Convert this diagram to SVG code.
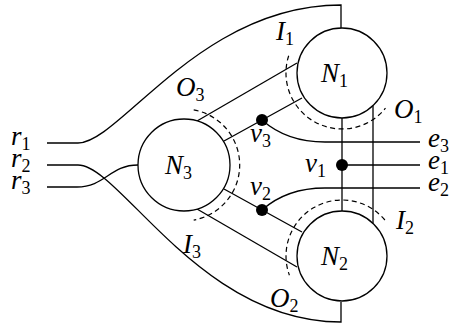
<svg xmlns="http://www.w3.org/2000/svg" width="453" height="324" viewBox="0 0 453 324" font-family="'Liberation Serif', 'DejaVu Serif', serif">
<style>
.ln{fill:none;stroke:#000;stroke-width:1.3}
.ds{fill:none;stroke:#000;stroke-width:1.2;stroke-dasharray:5 3.5}
.nd{fill:#fff;stroke:#000;stroke-width:1.3}
.dot{fill:#000}
text{font-family:"Liberation Serif","DejaVu Serif",serif;font-style:italic;font-size:27px;fill:#000}
.sub{font-style:normal;font-size:18px}
</style>
<rect width="453" height="324" fill="#fff"/>
<g id="connectors">
<path class="ln" d="M47,143 L78,143 C120,143 200,5 341,5 L341,28"/>
<path class="ln" d="M47,165 L78,165 C120,165 200,322 341,322 L341,302"/>
<path class="ln" d="M47,187 L77,187 C105,187 110,165 138,165"/>
<path class="ln" d="M197,121 L297,63"/>
<path class="ln" d="M224,141 L302,98"/>
<path class="ln" d="M197,209 L297,267"/>
<path class="ln" d="M224,189 L302,232"/>
<path class="ln" d="M262,120 C280,136 300,142 325,142 L420,142"/>
<path class="ln" d="M262,210 C280,194 300,188 325,188 L420,188"/>
<path class="ln" d="M342,118 L342,211"/>
<path class="ln" d="M342,165 L420,165"/>
<path class="ln" d="M373,105.6 L373,223.4"/>
<path class="ds" d="M288.7,55.7 A56,56 0 0 0 385.5,108.2"/>
<path class="ds" d="M384.9,220 A56,56 0 0 0 289.4,275.2"/>
<path class="ds" d="M193.7,109.9 A56,56 0 0 1 193.7,220.1"/>
</g>
<g id="N1"><circle class="nd" cx="342" cy="73" r="45"/><text x="321" y="82">N<tspan class="sub" dy="5">1</tspan></text></g>
<g id="N2"><circle class="nd" cx="342" cy="256" r="45"/><text x="321" y="265">N<tspan class="sub" dy="5">2</tspan></text></g>
<g id="N3"><circle class="nd" cx="184" cy="165" r="46"/><text x="165" y="174">N<tspan class="sub" dy="5">3</tspan></text></g>
<g id="v1"><circle class="dot" cx="342" cy="165" r="6"/><text x="305" y="172">v<tspan class="sub" dy="5">1</tspan></text></g>
<g id="v2"><circle class="dot" cx="262" cy="210" r="6"/><text x="250" y="195">v<tspan class="sub" dy="5">2</tspan></text></g>
<g id="v3"><circle class="dot" cx="262" cy="120" r="6"/><text x="250" y="142">v<tspan class="sub" dy="5">3</tspan></text></g>
<g id="r1"><text x="11" y="145">r<tspan class="sub" dy="5">1</tspan></text></g>
<g id="r2"><text x="11" y="167">r<tspan class="sub" dy="5">2</tspan></text></g>
<g id="r3"><text x="11" y="189">r<tspan class="sub" dy="5">3</tspan></text></g>
<g id="e3"><text x="428" y="147">e<tspan class="sub" dy="5">3</tspan></text></g>
<g id="e1"><text x="428" y="169">e<tspan class="sub" dy="5">1</tspan></text></g>
<g id="e2"><text x="428" y="191">e<tspan class="sub" dy="5">2</tspan></text></g>
<g id="I1"><text x="276" y="40">I<tspan class="sub" dy="5">1</tspan></text></g>
<g id="I2"><text x="396" y="229">I<tspan class="sub" dy="5">2</tspan></text></g>
<g id="I3"><text x="183" y="253">I<tspan class="sub" dy="5">3</tspan></text></g>
<g id="O1"><text x="394" y="118">O<tspan class="sub" dy="5">1</tspan></text></g>
<g id="O2"><text x="270" y="307">O<tspan class="sub" dy="5">2</tspan></text></g>
<g id="O3"><text x="176" y="96">O<tspan class="sub" dy="5">3</tspan></text></g>
</svg>
